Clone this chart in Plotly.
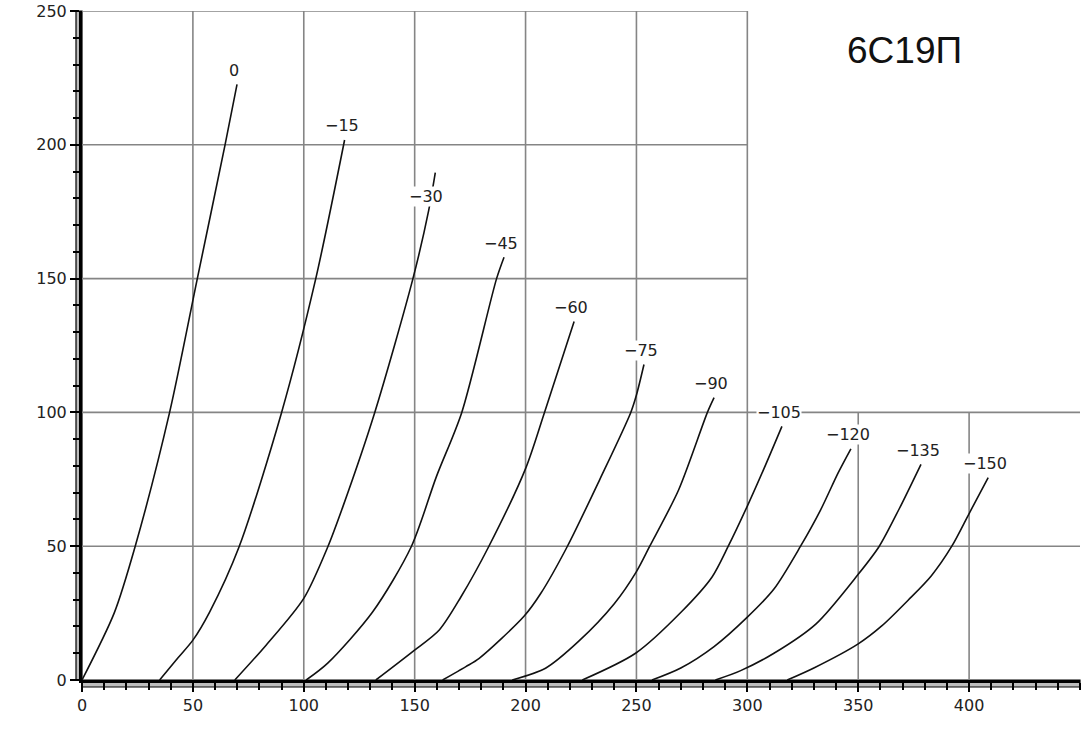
import plotly.graph_objects as go

# Anode characteristics of the 6S19P triode: Ia (mA) vs Ua (V) for each grid voltage
GRID_V = [0, -15, -30, -45, -60, -75, -90, -105, -120, -135, -150]

UA_0 = [0, 14.5, 24, 39.5, 52, 64.5, 69.9]
IA_0 = [0, 25, 50, 100, 150, 200, 222.6]

UA_15 = [35, 43.3, 50, 57.6, 70.8, 89.9, 105.3, 118.4]
IA_15 = [0, 8.3, 14.9, 25.5, 49.7, 99.7, 149.6, 201.8]

UA_30 = [68.9, 83.1, 100, 110.8, 117.6, 131.9, 149.1, 156.3, 159.3]
IA_30 = [0, 13.1, 30.5, 49.7, 64.7, 99.7, 149.6, 175.4, 189.6]

UA_45 = [101.1, 110.8, 131.1, 148.4, 159.8, 171.2, 186.9, 190.3]
IA_45 = [0, 6.3, 25.5, 49.7, 76, 99.9, 149.9, 158]

UA_60 = [132.5, 149.1, 161.1, 170.9, 183.3, 200, 208.5, 221.9]
IA_60 = [0, 10.6, 18.7, 31.1, 49.7, 79, 99.9, 134]

UA_75 = [162.6, 173.1, 179.1, 199.4, 206.9, 218.7, 233.5, 247.4, 250, 253.4]
IA_75 = [0, 5, 8.1, 23.9, 32.4, 49.7, 75, 99.9, 106.5, 117.9]

UA_90 = [194, 209, 224, 240, 250, 256, 269, 282, 285]
IA_90 = [0, 4.4, 14.5, 28.5, 40.5, 50, 71, 100, 105.5]

UA_105 = [225.6, 249.6, 270.3, 284.1, 291.4, 300, 307.5, 315.6]
IA_105 = [0, 10, 25.5, 38.5, 50, 65, 79, 94.8]

UA_120 = [257, 270, 285, 300, 312, 324, 333, 341, 346.7]
IA_120 = [0, 4.5, 12.5, 23.5, 34, 50, 63.5, 77.5, 86.4]

UA_135 = [285.6, 297, 312, 331, 350, 359.5, 368.5, 378.3]
IA_135 = [0, 3.5, 10, 21, 39.5, 50, 64, 80.6]

UA_150 = [318, 330, 350, 360.6, 372.6, 383, 392.2, 400, 408.6]
IA_150 = [0, 4.5, 13.5, 20.2, 29.9, 39, 50, 62.2, 75.6]

CURVES = [
    (UA_0, IA_0), (UA_15, IA_15), (UA_30, IA_30), (UA_45, IA_45),
    (UA_60, IA_60), (UA_75, IA_75), (UA_90, IA_90), (UA_105, IA_105),
    (UA_120, IA_120), (UA_135, IA_135), (UA_150, IA_150),
]

X_TICKS = [0, 50, 100, 150, 200, 250, 300, 350, 400]
Y_TICKS = [0, 50, 100, 150, 200, 250]

TITLE = "6С19П"

GRID_COLOR = "#858585"
FONT = "DejaVu Sans"

fig = go.Figure()

for g, (ua, ia) in zip(GRID_V, CURVES):
    fig.add_trace(go.Scatter(
        x=ua, y=ia,
        mode="lines",
        line=dict(color="#111111", width=1.6, shape="spline", smoothing=0.8),
        name=str(g),
        showlegend=False,
        hoverinfo="skip",
    ))

# curve labels near the upper end of each curve
for g, (ua, ia) in zip(GRID_V, CURVES):
    idx = -2 if g == -30 else -1   # the -30 label sits on top of its curve
    fig.add_annotation(
        x=ua[idx], y=ia[idx],
        text="0" if g == 0 else "\u2212" + str(abs(g)),
        showarrow=False,
        yshift=14, xshift=-3,
        bgcolor="white",
        borderpad=0,
        font=dict(family=FONT, size=16, color="#222222"),
    )

# partial grid, as in the original sheet
shapes = []
for xv in X_TICKS[1:]:
    top = 250 if xv <= 300 else 100
    shapes.append(dict(type="line", xref="x", yref="y", x0=xv, x1=xv, y0=0, y1=top,
                       line=dict(color=GRID_COLOR, width=1.6), layer="below"))
for yv in Y_TICKS[1:]:
    right = 300 if yv > 100 else 450
    shapes.append(dict(type="line", xref="x", yref="y", x0=0, x1=right, y0=yv, y1=yv,
                       line=dict(color=GRID_COLOR, width=1.6), layer="below"))

# ruler-like double axis bands
shapes.append(dict(type="rect", xref="paper", yref="paper", x0=0, x1=1,
                   y0=-7 / 669, y1=0, fillcolor="#bdbdbd",
                   line=dict(color="black", width=1.2), layer="below"))
shapes.append(dict(type="rect", xref="paper", yref="paper", x0=-6 / 998, x1=0,
                   y0=0, y1=1, fillcolor="#bdbdbd",
                   line=dict(color="black", width=1.2), layer="below"))

fig.add_annotation(
    xref="paper", yref="paper", x=0.8246, y=0.9417,
    xanchor="center", yanchor="middle",
    text=TITLE, showarrow=False,
    font=dict(family="Liberation Sans", size=37, color="#111111"),
)

fig.update_layout(
    width=1082, height=752,
    margin=dict(l=82, r=2, t=11, b=72),
    plot_bgcolor="white",
    paper_bgcolor="white",
    shapes=shapes,
    xaxis=dict(
        range=[0, 450], showgrid=False, zeroline=False,
        showline=True, linecolor="black", linewidth=3,
        tickmode="array", tickvals=X_TICKS,
        ticks="outside", ticklen=9, tickwidth=1.5, tickcolor="black",
        minor=dict(dtick=10, ticks="outside", ticklen=7, tickwidth=1.5, tickcolor="black"),
        tickfont=dict(family=FONT, size=16, color="#222222"),
    ),
    yaxis=dict(
        range=[0, 250], showgrid=False, zeroline=False,
        showline=True, linecolor="black", linewidth=3,
        tickmode="array", tickvals=Y_TICKS,
        ticks="outside", ticklen=9, tickwidth=1.5, tickcolor="black",
        minor=dict(dtick=10, ticks="outside", ticklen=6, tickwidth=1.5, tickcolor="black"),
        ticklabeloverflow="allow",
        tickfont=dict(family=FONT, size=16, color="#222222"),
    ),
)

# drop the default 8px page margin so the figure fills the window exactly
fig.write_html("out.html", config={"displayModeBar": False},
               post_script="document.body.style.margin = '0';")
